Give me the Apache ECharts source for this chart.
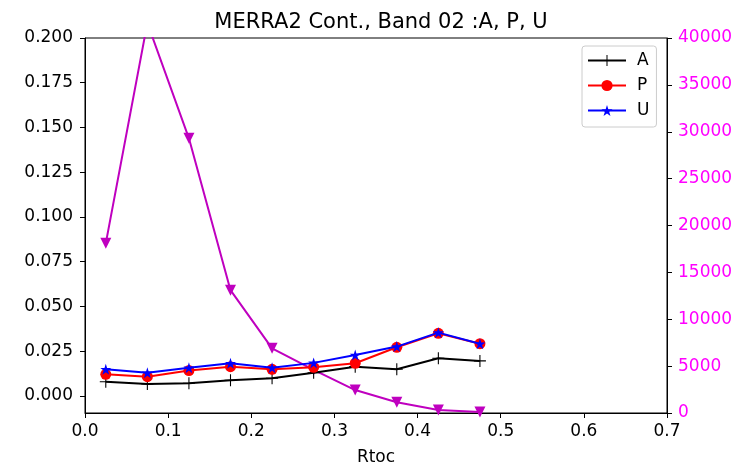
<!DOCTYPE html>
<html><head><meta charset="utf-8">
<script src="https://cdn.jsdelivr.net/npm/echarts@6/dist/echarts.min.js"></script>
<style>html,body{margin:0;padding:0;background:#fff}#c{width:735px;height:469px}</style>
</head><body><div id="c"></div><script>
const rtoc = [0.025, 0.075, 0.125, 0.175, 0.225, 0.275, 0.325, 0.375, 0.425, 0.475];
const seriesA = [0.0080, 0.0067, 0.0071, 0.0088, 0.0099, 0.0130, 0.0164, 0.0149, 0.0211, 0.0196];
const seriesP = [0.0121, 0.0108, 0.0142, 0.0164, 0.0149, 0.0160, 0.0183, 0.0272, 0.0350, 0.0292];
const seriesU = [0.0149, 0.0130, 0.0158, 0.0183, 0.0158, 0.0185, 0.0229, 0.0276, 0.0354, 0.0292];
const counts  = [18100, 41600, 29300, 13100, 6900, 4600, 2450, 1140, 320, 110];
const leftTicks = [0, 0.025, 0.05, 0.075, 0.1, 0.125, 0.15, 0.175, 0.2];

const FONT = 'DejaVu Sans';
const pair = (xs, ys) => xs.map((x, i) => [x, ys[i]]);
const plusPath = 'path://M-0.09,-1 L0.09,-1 L0.09,-0.09 L1,-0.09 L1,0.09 L0.09,0.09 L0.09,1 L-0.09,1 L-0.09,0.09 L-1,0.09 L-1,-0.09 L-0.09,-0.09 Z';
const starPath = 'path://M0,-1 L0.2245,-0.309 L0.951,-0.309 L0.363,0.118 L0.588,0.809 L0,0.382 L-0.588,0.809 L-0.363,0.118 L-0.951,-0.309 L-0.2245,-0.309 Z';

const chart = echarts.init(document.getElementById('c'), null, {renderer: 'canvas'});
chart.setOption({
  animation: false,
  backgroundColor: '#fff',
  textStyle: {fontFamily: FONT},
  title: {
    text: 'MERRA2 Cont., Band 02 :A, P, U',
    left: 376, top: 7, textAlign: 'center',
    textStyle: {fontFamily: FONT, fontSize: 21, fontWeight: 'normal', color: '#000'}
  },
  grid: {left: 85, right: 68, top: 38, bottom: 56, show: true, borderColor: '#000', borderWidth: 1, backgroundColor: 'transparent', outerBoundsMode: 'none', containLabel: false},
  legend: {
    data: ['A', 'P', 'U'],
    orient: 'vertical',
    left: 582, top: 46,
    itemWidth: 38, itemHeight: 14, itemGap: 8,
    padding: [6, 7, 8, 5],
    backgroundColor: '#fff',
    borderColor: '#ccc', borderWidth: 1, borderRadius: 3,
    textStyle: {fontFamily: FONT, fontSize: 17, color: '#000', padding: [0, 0, 0, 6]}
  },
  xAxis: {
    type: 'value', min: 0, max: 0.7, interval: 0.1,
    name: 'Rtoc', nameLocation: 'middle', nameGap: 36,
    nameTextStyle: {fontFamily: FONT, fontSize: 17, color: '#000'},
    axisLine: {show: true, onZero: false, lineStyle: {color: '#000', width: 1}},
    axisTick: {show: true, inside: false, length: 5, lineStyle: {color: '#000'}},
    axisLabel: {fontFamily: FONT, fontSize: 17, color: '#000', margin: 10, formatter: v => v.toFixed(1)},
    splitLine: {show: false}
  },
  yAxis: [{
    type: 'value', min: -0.0095, max: 0.2, position: 'left',
    axisLine: {show: true, onZero: false, lineStyle: {color: '#000', width: 1}},
    axisTick: {show: true, length: 5, lineStyle: {color: '#000'}, customValues: leftTicks},
    axisLabel: {fontFamily: FONT, fontSize: 17, color: '#000', margin: 12, customValues: leftTicks, formatter: v => v.toFixed(3)},
    splitLine: {show: false}
  }, {
    type: 'value', min: 0, max: 40000, interval: 5000, position: 'right',
    axisLine: {show: true, onZero: false, lineStyle: {color: '#000', width: 1}},
    axisTick: {show: true, length: 5, lineStyle: {color: '#000'}},
    axisLabel: {fontFamily: FONT, fontSize: 17, color: '#ff00ff', margin: 11, formatter: v => String(Math.round(v))},
    splitLine: {show: false}
  }],
  series: [{
    name: 'count', type: 'line', yAxisIndex: 1, data: pair(rtoc, counts),
    symbol: 'triangle', symbolRotate: 180, symbolSize: 11, showAllSymbol: true,
    lineStyle: {color: '#bf00bf', width: 2}, itemStyle: {color: '#bf00bf'}, z: 1
  }, {
    name: 'A', type: 'line', yAxisIndex: 0, data: pair(rtoc, seriesA),
    symbol: plusPath, symbolSize: 12,
    lineStyle: {color: '#000', width: 2}, itemStyle: {color: '#000'}, z: 2
  }, {
    name: 'P', type: 'line', yAxisIndex: 0, data: pair(rtoc, seriesP),
    symbol: 'circle', symbolSize: 11,
    lineStyle: {color: '#ff0000', width: 2}, itemStyle: {color: '#ff0000'}, z: 3
  }, {
    name: 'U', type: 'line', yAxisIndex: 0, data: pair(rtoc, seriesU),
    symbol: starPath, symbolSize: 11,
    lineStyle: {color: '#0000ff', width: 2}, itemStyle: {color: '#0000ff'}, z: 4
  }]
});
</script></body></html>
